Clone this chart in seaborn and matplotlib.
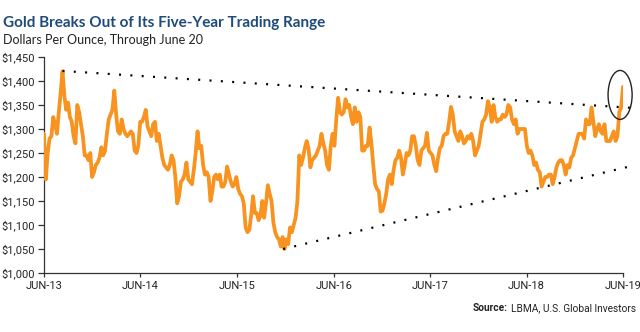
import numpy as np
import pandas as pd
import matplotlib
matplotlib.use("Agg")
import matplotlib.pyplot as plt
import matplotlib.dates as mdates
from matplotlib.patches import Ellipse
from matplotlib import font_manager as fm
import seaborn as sns

# ---------------- data ----------------
start_date = "2013-06-20"   # weekly LBMA readings (Thursdays) through June 20, 2019
prices = [
    # 2013
    1290, 1195, 1250, 1280, 1285, 1325, 1310, 1290, 1335, 1375, 1420, 1370, 1340, 1355,
    1325, 1315, 1285, 1270, 1350, 1335, 1310, 1285, 1245, 1245, 1235, 1250, 1200, 1210,
    # 2014
    1225, 1230, 1240, 1262, 1245, 1255, 1290, 1320, 1330, 1340, 1380, 1330, 1295,
    1290, 1320, 1300, 1290, 1285, 1290, 1295, 1290, 1255, 1250, 1265, 1315, 1315,
    1325, 1340, 1305, 1295, 1285, 1310, 1315, 1275, 1290, 1265, 1240, 1225, 1220,
    1215, 1225, 1245, 1235, 1200, 1145, 1160, 1190, 1195, 1205, 1230, 1195, 1190,
    # 2015
    1185, 1215, 1250, 1295, 1260, 1265, 1225, 1205, 1210, 1200, 1150, 1170, 1200,
    1205, 1195, 1205, 1180, 1180, 1190, 1222, 1205, 1190, 1180, 1185, 1200, 1175,
    1165, 1160, 1145, 1095, 1085, 1090, 1120, 1160, 1125, 1125, 1110, 1120, 1150,
    1115, 1145, 1183, 1165, 1150, 1105, 1085, 1075, 1070, 1055, 1075, 1050, 1070, 1060,
    # 2016
    1095, 1085, 1100, 1115, 1150, 1245, 1225, 1240, 1260, 1275, 1260, 1220, 1235,
    1240, 1245, 1255, 1265, 1290, 1270, 1255, 1225, 1215, 1265, 1290, 1265, 1320,
    1365, 1335, 1330, 1335, 1362, 1345, 1350, 1325, 1310, 1345, 1315, 1335, 1325,
    1255, 1255, 1265, 1265, 1303, 1270, 1225, 1185, 1175, 1170, 1128, 1130, 1145,
    # 2017
    1165, 1195, 1205, 1185, 1215, 1235, 1240, 1255, 1240, 1205, 1225, 1250, 1245,
    1255, 1285, 1285, 1265, 1235, 1225, 1255, 1260, 1265, 1292, 1255, 1250, 1245,
    1225, 1212, 1240, 1260, 1265, 1285, 1290, 1290, 1315, 1346, 1330, 1295, 1285,
    1275, 1295, 1285, 1270, 1275, 1285, 1280, 1290, 1275, 1245, 1255, 1265, 1290,
    # 2018
    1315, 1320, 1330, 1358, 1345, 1315, 1350, 1325, 1315, 1320, 1320, 1330, 1325,
    1330, 1350, 1345, 1320, 1310, 1320, 1290, 1300, 1300, 1300, 1300, 1265, 1250,
    1255, 1245, 1225, 1230, 1215, 1210, 1180, 1190, 1200, 1200, 1205, 1205, 1185,
    1200, 1220, 1230, 1235, 1235, 1225, 1205, 1225, 1220, 1240, 1245, 1260, 1275,
    # 2019
    1290, 1290, 1290, 1280, 1320, 1310, 1310, 1345, 1315, 1285, 1300, 1310, 1295,
    1290, 1310, 1275, 1275, 1275, 1285, 1295, 1275, 1285, 1335, 1345, 1388,
]
upper_dates = ["2013-08-29", "2019-07-24"]
upper_vals = [1421, 1344]
lower_dates = ["2015-12-12", "2019-07-08"]
lower_vals = [1050, 1221]
y_ticks = [1000, 1050, 1100, 1150, 1200, 1250, 1300, 1350, 1400, 1450]
x_tick_dates = ["2013-06-20", "2014-06-20", "2015-06-20", "2016-06-20",
                "2017-06-20", "2018-06-20", "2019-06-20"]
x_tick_labels = ["JUN-13", "JUN-14", "JUN-15", "JUN-16", "JUN-17", "JUN-18", "JUN-19"]
title = "Gold Breaks Out of Its Five-Year Trading Range"
subtitle = "Dollars Per Ounce, Through June 20"

df = pd.DataFrame({"date": pd.date_range(start_date, periods=len(prices), freq="7D"),
                   "price": prices})

# ---------------- style ----------------
sns.set_style("white")
names = {f.name for f in fm.fontManager.ttflist}
cond = "Liberation Sans Narrow" if "Liberation Sans Narrow" in names else "Roboto"
head = "Lato" if "Lato" in names else "DejaVu Sans"
plt.rcParams["font.family"] = [cond, "DejaVu Sans"]

ORANGE = "#F7931E"
NAVY = "#1E4B7A"
DARK = "#333333"

W, H = 640, 332
fig = plt.figure(figsize=(6.4, 3.32), dpi=100)
ax = fig.add_axes([44 / W, 1 - 273 / H, (623 - 44) / W, (273 - 57) / H])

sns.lineplot(data=df, x="date", y="price", ax=ax, color=ORANGE, lw=2.7,
             solid_joinstyle="round", solid_capstyle="round", zorder=3)

ax.plot(pd.to_datetime(upper_dates), upper_vals, color="black",
        lw=1.6, ls=(0, (0.9, 4.2)), clip_on=False, zorder=4)
ax.plot(pd.to_datetime(lower_dates), lower_vals, color="black",
        lw=1.6, ls=(0, (0.9, 4.2)), clip_on=False, zorder=4)

cx = mdates.date2num(pd.Timestamp("2019-06-09"))
ell = Ellipse((cx, 1371), width=91, height=102, fill=False, edgecolor="#222222",
              lw=1.0, clip_on=False, zorder=5)
ax.add_patch(ell)

ax.set_xlim(pd.Timestamp(x_tick_dates[0]), pd.Timestamp(x_tick_dates[-1]))
ax.set_ylim(y_ticks[0], y_ticks[-1])
ax.set_yticks(y_ticks)
ax.set_yticklabels([f"${v:,}" for v in y_ticks])
ax.set_xticks(pd.to_datetime(x_tick_dates))
ax.set_xticklabels(x_tick_labels)
ax.set_xlabel("")
ax.set_ylabel("")

for s in ["top", "right"]:
    ax.spines[s].set_visible(False)
for s in ["left", "bottom"]:
    ax.spines[s].set_color(DARK)
    ax.spines[s].set_linewidth(0.9)
ax.tick_params(axis="y", length=4.5, width=0.9, color=DARK, labelsize=8,
               labelcolor="#222222", pad=2, left=True)
ax.tick_params(axis="x", length=3, width=0.9, color=DARK, labelsize=8,
               labelcolor="#222222", pad=3, bottom=True)
ax.grid(False)

# ---------------- texts ----------------
renderer = fig.canvas.get_renderer()


def fit(t, target_w):
    bb = t.get_window_extent(renderer)
    t.set_fontsize(t.get_fontsize() * target_w / bb.width)


t1 = fig.text(3 / W, 1 - 27 / H, title, fontsize=12, fontweight="bold",
              color=NAVY, family=[head, "DejaVu Sans"], va="baseline", ha="left")
fit(t1, 322)
t2 = fig.text(3 / W, 1 - 44 / H, subtitle, fontsize=10, color="#222222",
              family=[head, "DejaVu Sans"], va="baseline", ha="left")
fit(t2, 200)

rest = fig.text(636 / W, 1 - 311 / H, "LBMA, U.S. Global Investors", fontsize=8.5,
                color="#222222", ha="right", va="baseline")
fit(rest, 124)
bb = rest.get_window_extent(renderer)
src = fig.text((bb.x0 - 3) / W, 1 - 311 / H, "Source:", fontsize=rest.get_fontsize(),
               fontweight="bold", color="#222222", ha="right", va="baseline")

fig.savefig("out.png", dpi=100, facecolor="white")
